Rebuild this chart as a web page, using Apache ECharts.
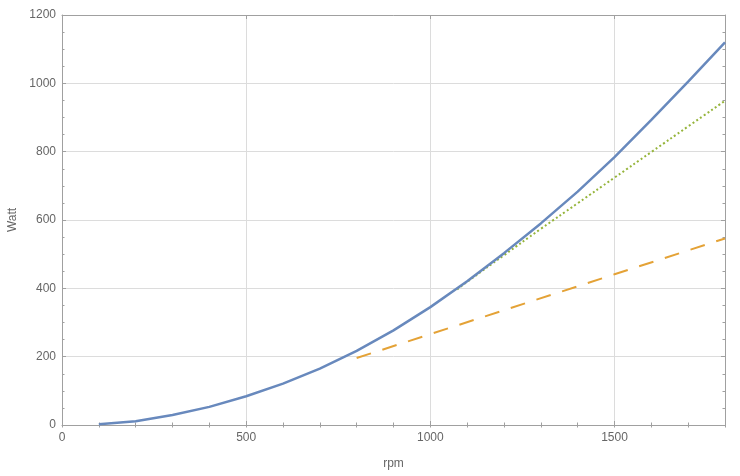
<!DOCTYPE html>
<html>
<head>
<meta charset="utf-8">
<script src="https://cdn.jsdelivr.net/npm/echarts@6/dist/echarts.min.js"></script>
<style>
html,body{margin:0;padding:0;background:#fff;}
#chart{width:740px;height:476px;}
</style>
</head>
<body>
<div id="chart"></div>
<script>
// Data
const rpmBlue  = [100, 200, 300, 400, 500, 600, 700, 800, 900, 1000, 1100, 1200, 1300, 1400, 1500, 1600, 1700, 1800];
const wattBlue = [2, 11, 29, 53, 84, 121, 165, 217, 277, 345, 421, 503, 590, 683, 784, 893, 1005, 1120];

const rpmOrange  = [800, 1000, 1500, 1800];
const wattOrange = [196, 266, 441, 546];

const rpmGreen  = [1073, 1100, 1200, 1300, 1400, 1500, 1600, 1700, 1800];
const wattGreen = [397, 419, 497, 574, 649, 724, 799, 874, 949];

const xTicksMajor = 500, xTicksMinor = 100, xMin = 0, xMax = 1800;
const yTicksMajor = 200, yMin = 0, yMax = 1200;

const pair = (xs, ys) => xs.map((x, i) => [x, ys[i]]);

const frame = '#a0a0a0';
const labelColor = '#666';
const font = 'Liberation Sans, Arial, sans-serif';
const plain = v => String(v);

const chart = echarts.init(document.getElementById('chart'), null, {renderer: 'canvas'});

function xAx(pos, interval, opts) {
  return Object.assign({
    type: 'value', position: pos, min: xMin, max: xMax, interval: interval,
    axisLine: {show: true, onZero: false, lineStyle: {color: frame, width: 1}},
    axisTick: {show: true, inside: true, length: 4, lineStyle: {color: frame}},
    axisLabel: {show: false},
    splitLine: {show: false}
  }, opts);
}
function yAx(pos, opts) {
  return Object.assign({
    type: 'value', position: pos, min: yMin, max: yMax, interval: yTicksMajor,
    axisLine: {show: true, onZero: false, lineStyle: {color: frame, width: 1}},
    axisTick: {show: true, inside: true, length: 4, lineStyle: {color: frame}},
    minorTick: {show: true, splitNumber: 4, length: 2.5, lineStyle: {color: frame}},
    axisLabel: {show: false},
    splitLine: {show: false}
  }, opts);
}

chart.setOption({
  animation: false,
  backgroundColor: '#fff',
  grid: {left: 62, right: 15, top: 15, bottom: 51, containLabel: false, outerBoundsMode: 'none'},
  xAxis: [
    xAx('bottom', xTicksMajor, {
      axisLabel: {show: true, color: labelColor, fontSize: 12, fontFamily: font, margin: 7, showMaxLabel: false, formatter: plain},
      splitLine: {show: true, lineStyle: {color: '#dcdcdc', width: 1}},
      name: 'rpm', nameLocation: 'middle', nameGap: 33,
      nameTextStyle: {color: labelColor, fontSize: 12, fontFamily: font}
    }),
    xAx('bottom', xTicksMinor, {axisLine: {show: false}, axisTick: {show: true, inside: true, length: 2.5, lineStyle: {color: frame}}}),
    xAx('top', xTicksMajor, {}),
    xAx('top', xTicksMinor, {axisLine: {show: false}, axisTick: {show: true, inside: true, length: 2.5, lineStyle: {color: frame}}})
  ],
  yAxis: [
    yAx('left', {
      axisLabel: {show: true, color: labelColor, fontSize: 12, fontFamily: font, margin: 6, formatter: plain},
      splitLine: {show: true, lineStyle: {color: '#dcdcdc', width: 1}},
      name: 'Watt', nameLocation: 'middle', nameGap: 41, nameRotate: 90,
      nameTextStyle: {color: labelColor, fontSize: 12, fontFamily: font}
    }),
    yAx('right', {})
  ],
  series: [
    {
      type: 'line', xAxisIndex: 0, yAxisIndex: 0, showSymbol: false, symbol: 'none',
      data: pair(rpmBlue, wattBlue),
      lineStyle: {color: '#6889bd', width: 2.5}, z: 3
    },
    {
      type: 'line', xAxisIndex: 0, yAxisIndex: 0, showSymbol: false, symbol: 'none',
      data: pair(rpmOrange, wattOrange),
      lineStyle: {color: '#e4a236', width: 2, type: [15, 12]}, z: 2
    },
    {
      type: 'line', xAxisIndex: 0, yAxisIndex: 0, showSymbol: false, symbol: 'none', smooth: true,
      data: pair(rpmGreen, wattGreen),
      lineStyle: {color: '#95b43a', width: 2, type: [2, 2.5]}, z: 2
    }
  ]
});
</script>
</body>
</html>
